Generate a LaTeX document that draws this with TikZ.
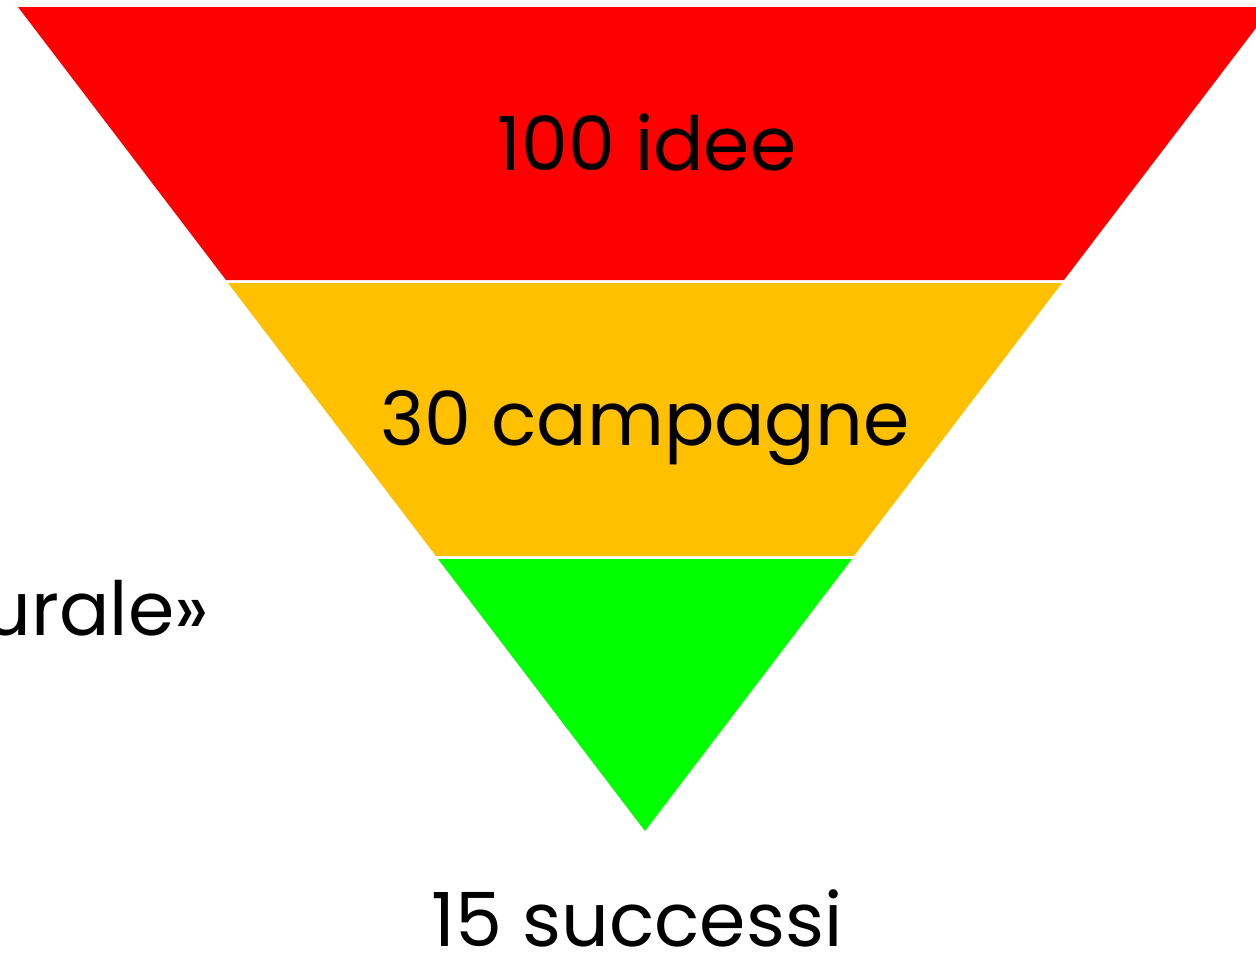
\documentclass[tikz,border=0pt]{standalone}
\usepackage{fontspec}
\setmainfont{Poppins}
\usetikzlibrary{positioning}
\definecolor{funnelred}{RGB}{255,0,0}
\definecolor{funnelorange}{RGB}{255,192,0}
\definecolor{funnelgreen}{RGB}{0,255,0}
\tikzset{
  label/.style={font=\fontsize{56}{60}\selectfont, inner sep=0pt, anchor=base},
  band/.style={draw=none}
}
\begin{document}
\begin{tikzpicture}[x=0.75pt,y=-0.75pt]
        \useasboundingbox (0,0) rectangle (1256,954);
        \clip (0,0) rectangle (1256,954);
        \fill[funnelred] (18,7) -- (1272,7) -- (1064,280) -- (226,280) -- cycle;
        \fill[funnelorange] (228,283) -- (1062,283) -- (854,556) -- (436,556) -- cycle;
        \fill[funnelgreen] (438,559) -- (852,559) -- (645,831) -- cycle;
        \node[label] (idee) at (647,170) {100 idee};
        \node[label] (campagne) at (645,445) {30 campagne};
        \node[label] (successi) at (637,946) {15 successi};
        \node[label, anchor=base east] (naturale) at (209,635) {urale»};
    \end{tikzpicture}
\end{document}
